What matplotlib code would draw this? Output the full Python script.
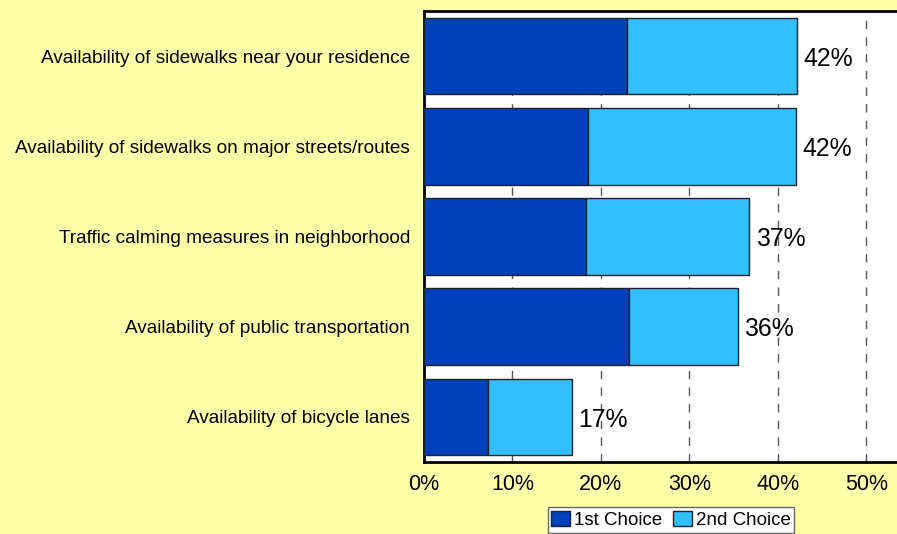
import matplotlib.pyplot as plt
import numpy as np

categories = ["Availability of sidewalks near your residence",
              "Availability of sidewalks on major streets/routes",
              "Traffic calming measures in neighborhood",
              "Availability of public transportation",
              "Availability of bicycle lanes"]
first = [22.9, 18.5, 18.3, 23.2, 7.2]
second = [19.3, 23.6, 18.5, 12.3, 9.5]
totals = ["42%", "42%", "37%", "36%", "17%"]
xticks = [0, 10, 20, 30, 40, 50]

plt.rcParams['font.family'] = ['Liberation Sans', 'DejaVu Sans']

bg = '#FFFFAA'
dark = '#0040BB'
light = '#33BFFF'

fig = plt.figure(figsize=(8.97, 5.34), dpi=100, facecolor=bg)
ax = fig.add_axes([424/897, 72/534, 1 - 424/897 + 0.01, (462 - 11)/534])
ax.set_facecolor('white')

y = np.arange(len(categories))
first = np.array(first)
second = np.array(second)
ax.barh(y, first, height=0.85, color=dark, edgecolor='#222222', linewidth=1, label='1st Choice', zorder=3)
ax.barh(y, second, left=first, height=0.85, color=light, edgecolor='#222222', linewidth=1, label='2nd Choice', zorder=3)

for i, t in enumerate(totals):
    ax.text(first[i] + second[i] + 0.7, y[i] + 0.03, t, va='center', ha='left', fontsize=17.8, zorder=4)

ax.set_ylim(len(categories) - 0.5, -0.5)
ax.set_xlim(0, 54.5)
ax.set_yticks(y)
ax.set_yticklabels(categories, fontsize=13.7)
ax.set_xticks(xticks)
ax.set_xticklabels([f"{v}%" for v in xticks], fontsize=15.5)
ax.tick_params(axis='y', length=0, pad=10)
ax.tick_params(axis='x', length=0, pad=9)
ax.xaxis.grid(True, linestyle=(0, (6, 6)), color='#555555', linewidth=1, zorder=0)
for s in ['left', 'top', 'bottom']:
    ax.spines[s].set_linewidth(2)
    ax.spines[s].set_color('black')
ax.spines['right'].set_visible(False)

leg = fig.legend(loc='upper center', bbox_to_anchor=(671/897, 27/534), ncol=2, fontsize=13.5,
                 frameon=True, fancybox=False, edgecolor='#666666', framealpha=1,
                 handlelength=1.0, handleheight=0.9, handletextpad=0.2, columnspacing=0.6,
                 borderpad=0.2, borderaxespad=0)
leg.get_frame().set_linewidth(1)

fig.savefig('out.png', dpi=100, facecolor=bg)
